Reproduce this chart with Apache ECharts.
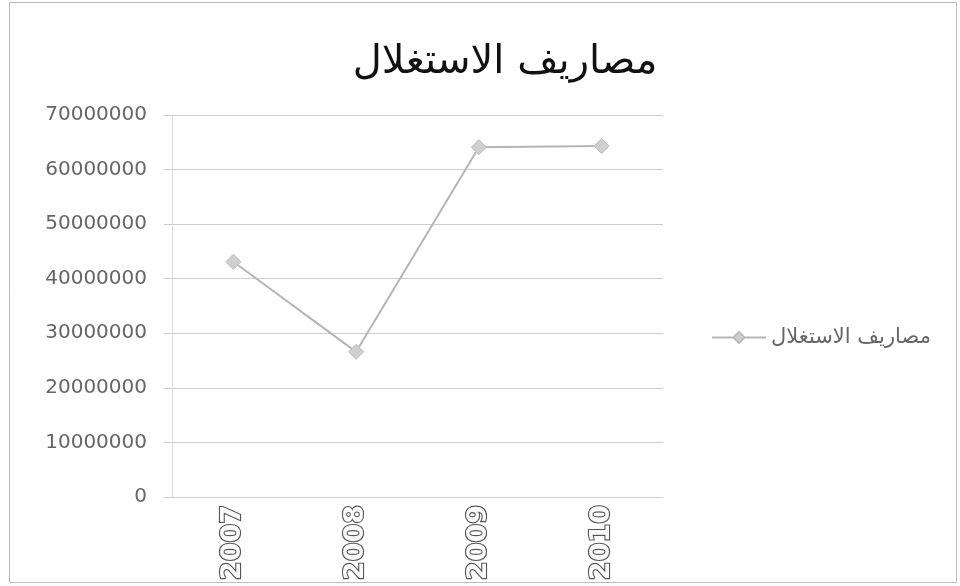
<!DOCTYPE html>
<html>
<head>
<meta charset="utf-8">
<script src="https://cdn.jsdelivr.net/npm/echarts@6/dist/echarts.min.js"></script>
<style>html,body{margin:0;padding:0;background:#fff}#c{width:960px;height:586px}</style>
</head>
<body>
<div id="c"></div>
<script>
const titleText = 'مصاريف الاستغلال';
const seriesName = 'مصاريف الاستغلال';
const categories = ['2007', '2008', '2009', '2010'];
const values = [43100000, 26600000, 64100000, 64300000];
const yMin = 0, yMax = 70000000, yInterval = 10000000;

const chart = echarts.init(document.getElementById('c'));
chart.setOption({
  backgroundColor: '#fff',
  animation: false,
  graphic: [{
    type: 'rect', shape: {x: 9.5, y: 2.5, width: 947, height: 580},
    style: {fill: 'none', stroke: '#bbb', lineWidth: 1}, silent: true
  }],
  title: {
    text: titleText, left: 500, top: 38, textAlign: 'center',
    textStyle: {fontFamily: 'DejaVu Sans', fontSize: 40, fontWeight: 'normal', color: '#111'}
  },
  legend: {
    left: 706, top: 322, itemWidth: 54, itemHeight: 14, itemGap: 6,
    textStyle: {fontFamily: 'DejaVu Sans', fontSize: 21, color: '#666'},
    data: [{name: seriesName}]
  },
  grid: {left: 172, right: 297, top: 115, bottom: 89, containLabel: false},
  xAxis: {
    type: 'category', data: categories, boundaryGap: true,
    axisLine: {show: true, lineStyle: {color: '#ccc'}},
    axisTick: {show: false},
    axisLabel: {rotate: 90, fontFamily: 'DejaVu Sans', fontSize: 27, fontWeight: 'bold',
      color: '#fafafa', textBorderColor: '#555', textBorderWidth: 2.2, margin: 8}
  },
  yAxis: {
    type: 'value', min: yMin, max: yMax, interval: yInterval,
    axisLine: {show: true, lineStyle: {color: '#ddd'}},
    axisTick: {show: true, length: 8, lineStyle: {color: '#ccc'}},
    splitLine: {lineStyle: {color: '#ccc'}},
    axisLabel: {fontFamily: 'DejaVu Sans', fontSize: 20, color: '#666', margin: 25,
      formatter: v => String(v)}
  },
  series: [{
    name: seriesName, type: 'line', data: values,
    symbol: 'diamond', symbolSize: 15,
    lineStyle: {color: '#b5b5b5', width: 2},
    itemStyle: {color: '#cfcfcf', borderColor: '#bcbcbc', borderWidth: 1}
  }]
});
</script>
</body>
</html>
